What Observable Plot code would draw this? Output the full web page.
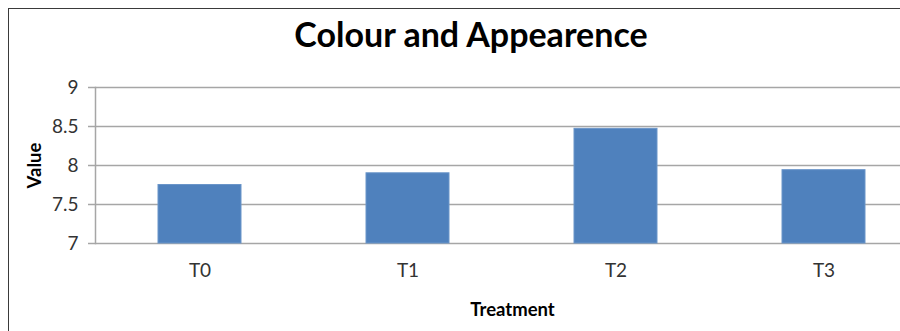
<!DOCTYPE html>
<html>
<head>
<meta charset="utf-8">
<script src="https://cdn.jsdelivr.net/npm/d3@7"></script>
<script src="https://cdn.jsdelivr.net/npm/@observablehq/plot@0.6"></script>
<style>
  html, body { margin: 0; padding: 0; background: #fff; overflow: hidden; }
  #wrap { position: relative; width: 900px; height: 331px; overflow: hidden; background: #fff; font-family: Lato, "Open Sans", sans-serif; }
  #border { position: absolute; left: 8px; top: 8px; width: 1000px; height: 1000px; border-left: 1.5px solid #3a3a3a; border-top: 1.5px solid #3a3a3a; }
  #title { position: absolute; left: 0; top: 14px; width: 942px; text-align: center; font-weight: bold; font-size: 34px; line-height: 40px; color: #000; }
  #chart { position: absolute; left: 0; top: 60px; }
  #chart svg { overflow: hidden; background: transparent !important; }
</style>
</head>
<body>
<div id="wrap">
  <div id="border"></div>
  <div id="title">Colour and Appearence</div>
  <div id="chart"></div>
</div>
<script>
const categories = ["T0", "T1", "T2", "T3"];
const values = [7.75, 7.9, 8.47, 7.94];
const yTicks = [7, 7.5, 8, 8.5, 9];

const data = categories.map((c, i) => ({treatment: c, value: values[i]}));

const plot = Plot.plot({
  width: 900,
  height: 271,
  marginLeft: 95,
  marginRight: -29,
  marginTop: 27,
  marginBottom: 88,
  style: {fontFamily: "Lato, 'Open Sans', sans-serif", fontSize: "18px", color: "#000", background: "transparent", overflow: "hidden"},
  x: {domain: categories, paddingInner: 0.6, paddingOuter: 0.3},
  y: {domain: [7, 9], ticks: yTicks},
  marks: [
    Plot.gridY(yTicks, {stroke: "#a6a6a6", strokeOpacity: 1, strokeWidth: 1.5}),
    Plot.barY(data, {x: "treatment", y1: 7, y2: "value", fill: "#4f81bd", stroke: "#6a95c9", strokeWidth: 1}),
    Plot.frame({anchor: "left", stroke: "#a6a6a6", strokeWidth: 1.5}),
    Plot.axisY(yTicks, {tickSize: 7, tickPadding: 10, stroke: "#a6a6a6", strokeWidth: 1.5, fontSize: 19, fill: "#333", tickFormat: d => String(d), label: "Value", labelAnchor: "center", labelOffset: 68, labelArrow: "none"}),
    Plot.axisX({tickSize: 0, tickPadding: 20, fontSize: 19, fill: "#333", label: "Treatment", labelAnchor: "center", labelOffset: 72, labelArrow: "none"})
  ]
});
document.getElementById("chart").appendChild(plot);
// bold axis titles
plot.querySelectorAll("g[aria-label='y-axis label'] text, g[aria-label='x-axis label'] text").forEach(t => { t.setAttribute("font-weight", "bold"); t.setAttribute("font-size", "18.5"); t.setAttribute("fill", "#000"); });
</script>
</body>
</html>
